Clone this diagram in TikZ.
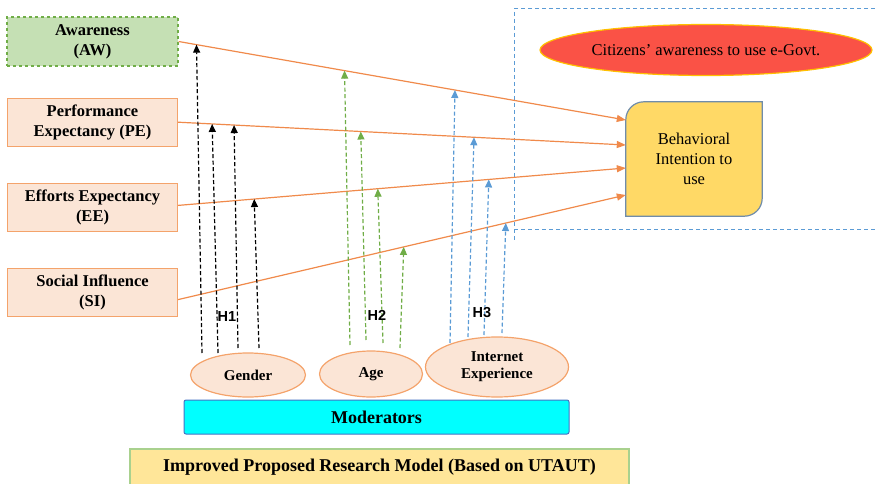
\documentclass[tikz,border=0pt]{standalone}
\usepackage{fontspec}
\setmainfont{Liberation Serif}
\newfontfamily\hfont{Liberation Sans}
\usetikzlibrary{arrows.meta,positioning,shapes.geometric,calc,backgrounds}

\definecolor{peach}{HTML}{FBE5D6}
\definecolor{peachline}{HTML}{F4A36B}
\definecolor{awfill}{HTML}{C5E0B4}
\definecolor{awline}{HTML}{70AD47}
\definecolor{infline}{HTML}{F08A4B}
\definecolor{bifill}{HTML}{FFD966}
\definecolor{biline}{HTML}{6F8CAB}
\definecolor{citfill}{HTML}{FA5246}
\definecolor{citline}{HTML}{FFC000}
\definecolor{modfill}{HTML}{00FFFF}
\definecolor{modline}{HTML}{4472C4}
\definecolor{capfill}{HTML}{FFE699}
\definecolor{capline}{HTML}{A9D18E}
\definecolor{hgreen}{HTML}{70AD47}
\definecolor{hblue}{HTML}{5B9BD5}

\tikzset{
  factor/.style={draw=peachline, fill=peach, line width=1.2pt, minimum width=170pt,
    minimum height=48pt, inner sep=0pt, align=center,
    font=\fontsize{16.5}{20}\selectfont\bfseries},
  moder/.style={ellipse, draw=peachline, fill=peach, line width=1.2pt, inner sep=0pt,
    align=center, font=\fontsize{15}{17}\selectfont\bfseries},
  infl/.style={infline, line width=1.2pt, -{Triangle[length=9pt,width=7pt]}},
  hyp/.style={dash pattern=on 4pt off 2.5pt, line width=1.2pt,
    -{Triangle[length=8pt,width=7pt]}},
  hlab/.style={font=\hfont\fontsize{14.5}{16}\selectfont\bfseries, inner sep=0pt},
}

\begin{document}
\begin{tikzpicture}[x=1pt,y=-1pt]
  \useasboundingbox (0,0) rectangle (875,484);

  % Dashed frame on the right
  \draw[hblue, line width=1pt, dash pattern=on 4pt off 3pt] (875,9) -- (514,9) -- (514,240);
  \draw[hblue, line width=1pt, dash pattern=on 4pt off 3pt] (514,229) -- (875,229);

  % Factors
  \node[factor, draw=awline, fill=awfill, dashed, minimum width=171pt, minimum height=49pt]
    (aw) at (92.5,41.5) {Awareness\\(AW)};
  \node[factor, below=31pt of aw] (pe) {Performance\\Expectancy (PE)};
  \node[factor, below=36pt of pe] (ee) {Efforts Expectancy\\(EE)};
  \node[factor, below=36pt of ee] (si) {Social Influence\\(SI)};

  % Behavioral intention
  \node[minimum width=136pt, minimum height=114pt, inner sep=0pt, align=center,
    font=\fontsize{16.5}{20}\selectfont] (bi) at (694,159) {Behavioral\\Intention to\\use};
  \begin{scope}[on background layer]
    \draw[fill=bifill, draw=biline, line width=1.2pt]
      ($(bi.north west)+(18,0)$) -- (bi.north east) -- ($(bi.south east)+(0,-18)$)
      .. controls ($(bi.south east)+(0,-8)$) and ($(bi.south east)+(-8,0)$) .. ($(bi.south east)+(-18,0)$)
      -- (bi.south west) -- ($(bi.north west)+(0,18)$)
      .. controls ($(bi.north west)+(0,8)$) and ($(bi.north west)+(8,0)$) .. ($(bi.north west)+(18,0)$)
      -- cycle;
  \end{scope}

  % Citizens' awareness
  \node[ellipse, fill=citfill, draw=citline, line width=1.2pt, minimum width=332pt,
    minimum height=51pt, inner sep=0pt, font=\fontsize{16.5}{20}\selectfont]
    (cit) at (706,50) {Citizens’ awareness to use e-Govt.};

  % Influence lines
  \draw[infl] (aw.east) -- ([yshift=39pt]bi.west)
    coordinate[pos=.040] (awg) coordinate[pos=.371] (awa) coordinate[pos=.618] (awi);
  \draw[infl] (pe.east) -- ([yshift=14pt]bi.west)
    coordinate[pos=.076] (peg1) coordinate[pos=.125] (peg2)
    coordinate[pos=.408] (pea) coordinate[pos=.661] (pei);
  \draw[infl] ([yshift=2pt]ee.east) -- ([yshift=-9pt]bi.west)
    coordinate[pos=.170] (eeg) coordinate[pos=.446] (eea) coordinate[pos=.694] (eei);
  \draw[infl] ([yshift=-7pt]si.east) -- ([yshift=-36pt]bi.west)
    coordinate[pos=.504] (sia) coordinate[pos=.732] (sii);

  % Moderators
  \node[moder, minimum width=115pt, minimum height=44pt] (gender) at (248,375) {Gender};
  \node[moder, minimum width=103pt, minimum height=46pt] (age) at (371,374) {Age};
  \node[moder, minimum width=143pt, minimum height=60pt] (inet) at (497,367) {Internet\\Experience};

  \node[fill=modfill, draw=modline, line width=1pt, rounded corners=2pt, minimum width=385pt,
    minimum height=34pt, inner sep=0pt, font=\fontsize{18}{20}\selectfont\bfseries]
    (mod) at (376.5,417) {Moderators};

  % Hypotheses
  \foreach \dx/\dy/\tip in {-46/-22/awg, -30/-22/peg1, -10/-27/peg2, 11/-27/eeg}
    \draw[hyp, black] ($(gender)+(\dx,\dy)$) -- (\tip);
  \foreach \dx/\dy/\tip in {-21/-29/awa, -5/-34/pea, 12/-31/eea, 29/-26/sia}
    \draw[hyp, hgreen] ($(age)+(\dx,\dy)$) -- (\tip);
  \foreach \dx/\dy/\tip in {-47/-24/awi, -29/-30/pei, -13/-32/eei, 5/-34/sii}
    \draw[hyp, hblue] ($(inet)+(\dx,\dy)$) -- (\tip);

  \node[hlab] (h1) at (227,317) {H1};
  \node[hlab] (h2) at (377,315) {H2};
  \node[hlab] (h3) at (482,313) {H3};

  % Caption
  \node[fill=capfill, draw=capline, line width=1.2pt, minimum width=499pt, minimum height=36pt,
    inner sep=0pt, font=\fontsize{18}{20}\selectfont\bfseries]
    (cap) at (379.5,467) {Improved Proposed Research Model (Based on UTAUT)};
\end{tikzpicture}
\end{document}
